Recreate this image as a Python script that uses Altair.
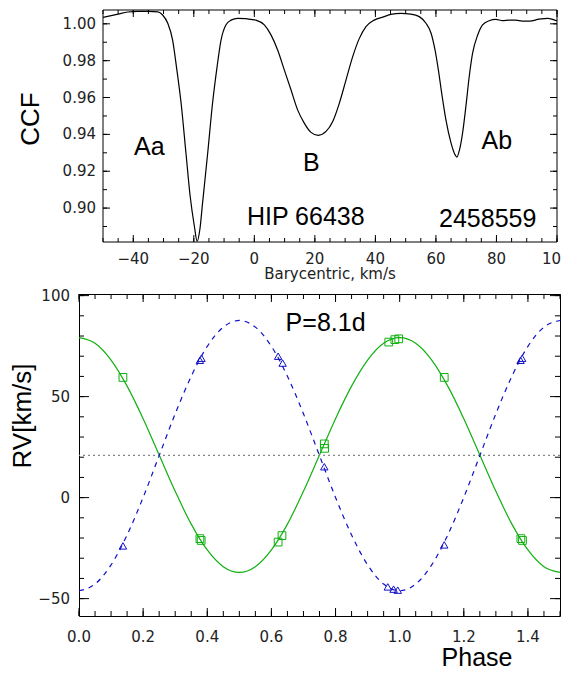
import altair as alt
import pandas as pd

# ---------------- top panel: CCF ----------------
vel = [-50, -45, -41.8, -38.5, -35, -31.9, -30.3, -28.6, -27.0, -25.6, -24.2, -22.6, -21.2, -19.8,
       -18.9, -18.0, -17.1, -15.4, -13.8, -12.3, -11.0, -9.4, -7.7, -5.5, -3, -1.1, 0.5, 3.3, 5.5,
       7.7, 9.9, 12.1, 14.3, 16.5, 18.7, 21.1, 23.7, 25.9, 28.1, 30.3, 32.5, 34.7, 36.9, 39.6, 42.9,
       45.1, 48.4, 51.7, 54.5, 56.7, 58.4, 59.7, 60.8, 61.9, 63.3, 65.0, 66.3, 66.9, 67.8, 68.8, 69.9,
       71.0, 72.1, 73.8, 75.4, 77.6, 79.8, 82.0, 84.2, 86.4, 88.5, 91, 94, 97, 100]
ccf = [1.0035, 1.0053, 1.0064, 1.0068, 1.0068, 1.0065, 1.0048, 1.0003, 0.9912, 0.975, 0.957, 0.930,
       0.9064, 0.890, 0.882, 0.8884, 0.9028, 0.930, 0.957, 0.9768, 0.9912, 0.9994, 1.002, 1.003,
       1.0028, 1.0024, 1.002, 0.9994, 0.994, 0.9858, 0.975, 0.9642, 0.9533, 0.9461, 0.9411, 0.9395,
       0.9416, 0.947, 0.957, 0.9696, 0.9822, 0.9921, 0.9985, 1.002, 1.0039, 1.0051, 1.0057, 1.0053,
       1.0039, 1.0003, 0.9949, 0.9858, 0.975, 0.9624, 0.9479, 0.9353, 0.929, 0.9277, 0.9317, 0.9407,
       0.9552, 0.9714, 0.984, 0.9939, 0.9994, 1.0017, 1.0024, 1.0017, 1.002, 1.002, 1.0015, 1.0015,
       1.0025, 1.003, 1.0015]

note_labels = ["Aa", "B", "Ab", "HIP 66438", "2458559"]
note_x = [-34.7, 18.8, 80.1, 17.0, 77.1]
note_y = [0.9331, 0.9247, 0.9366, 0.895, 0.894]

top_x_domain = [-50, 100]
top_y_domain = [0.8816, 1.0075]
top_x_ticks = [-50 + 5 * i for i in range(31)]
top_x_major = [-40, -20, 0, 20, 40, 60, 80, 100]
top_x_labels = ["\u221240", "\u221220", "0", "20", "40", "60", "80"]
top_x_label_vals = [-40, -20, 0, 20, 40, 60, 80]
top_x_edge_label = ["10"]          # the "100" label is cut at the picture edge
top_x_edge_val = [100]
top_y_ticks = [round(0.89 + 0.01 * i, 2) for i in range(12)]
top_y_major = [0.90, 0.92, 0.94, 0.96, 0.98, 1.00]
top_y_labels = ["0.90", "0.92", "0.94", "0.96", "0.98", "1.00"]

# ---------------- bottom panel: RV curve ----------------
phase_grid = [0.0, 0.05, 0.1, 0.15, 0.2, 0.25, 0.3, 0.35, 0.4, 0.45, 0.5, 0.55, 0.6, 0.65, 0.7, 0.75,
              0.8, 0.85, 0.9, 0.95, 1.0, 1.05, 1.1, 1.15, 1.2, 1.25, 1.3, 1.35, 1.4, 1.45, 1.5]
rv_green_curve = [79.2, 76.4, 68.1, 55.2, 39.1, 21.1, 3.1, -13.1, -25.9, -34.2, -37.0, -34.2, -25.9,
                  -13.1, 3.1, 21.1, 39.1, 55.2, 68.1, 76.4, 79.2, 76.4, 68.1, 55.2, 39.1, 21.1, 3.1,
                  -13.1, -25.9, -34.2, -37.0]
rv_blue_curve = [-46.1, -42.8, -33.3, -18.5, 0.1, 20.8, 41.5, 60.1, 74.9, 84.4, 87.7, 84.4, 74.9, 60.1,
                 41.5, 20.8, 0.1, -18.5, -33.3, -42.8, -46.1, -42.8, -33.3, -18.5, 0.1, 20.8, 41.5,
                 60.1, 74.9, 84.4, 87.7]
gamma = [20.9]

green_phase = [0.137, 0.377, 0.381, 0.621, 0.633, 0.765, 0.766, 0.966, 0.985, 0.997, 1.139, 1.378, 1.383]
green_rv = [59.5, -20.3, -21.2, -22.0, -18.8, 26.6, 24.4, 77.0, 78.2, 78.6, 59.5, -20.3, -21.2]
blue_phase = [0.137, 0.377, 0.382, 0.621, 0.635, 0.765, 0.963, 0.981, 0.994, 1.139, 1.377, 1.382]
blue_rv = [-23.9, 68.0, 69.0, 70.0, 66.6, 15.3, -44.2, -45.3, -45.8, -23.4, 68.0, 69.0]

period_label = ["P=8.1d"]
period_x = [0.769]
period_y = [86.2]

bot_x_domain = [0, 1.5]
bot_y_domain = [-58.6, 100.8]
bot_x_ticks = [round(0.05 * i, 2) for i in range(31)]
bot_x_major = [0.0, 0.2, 0.4, 0.6, 0.8, 1.0, 1.2, 1.4]
bot_x_labels = ["0.0", "0.2", "0.4", "0.6", "0.8", "1.0", "1.2", "1.4"]
bot_y_ticks = [-50 + 10 * i for i in range(16)]
bot_y_major = [-50, 0, 50, 100]
bot_y_labels = ["\u221250", "0", "50", "100"]

GREEN = "#10b010"
BLUE = "#1010c8"
TICKFONT = "DejaVu Sans"
BIGFONT = "Liberation Sans"
LABELCOLOR = "#222222"

# layout (pixels)
INSET = 24            # the upper frame starts this far right of the lower one
W1, H1 = 478, 232
W2, H2 = 481, 322

# symbol paths for an inward tick starting at the frame edge (length = sqrt(size))
TICK_PATH = {"bottom": "M0,0L0,-2", "top": "M0,0L0,2", "left": "M0,0L2,0", "right": "M0,0L-2,0"}


def edge_ticks(values, length, edge, scale, left, right, height, tag):
    """inward tick marks along one edge of a frame, drawn as line-shaped point symbols"""
    df = pd.DataFrame({"v": values, "edge": [tag + edge + str(length)] * len(values)})
    sym = alt.Chart(df).mark_point(shape=TICK_PATH[edge], size=length * length, filled=False,
                                   color="black", strokeWidth=1, opacity=1)
    if edge in ("bottom", "top"):
        return sym.encode(x=alt.X("v:Q", scale=scale, axis=None),
                          y=alt.value(height if edge == "bottom" else 0))
    return sym.encode(y=alt.Y("v:Q", scale=scale, axis=None),
                      x=alt.value(left if edge == "left" else right))


def frame_ticks(xvals, xmaj, yvals, ymaj, xs, ys, left, right, height, xl, yl, tag):
    out = []
    for edge in ("bottom", "top"):
        out.append(edge_ticks(xvals, xl[1], edge, xs, left, right, height, tag))
        out.append(edge_ticks(xmaj, xl[0], edge, xs, left, right, height, tag))
    for edge in ("left", "right"):
        out.append(edge_ticks(yvals, yl[1], edge, ys, left, right, height, tag))
        out.append(edge_ticks(ymaj, yl[0], edge, ys, left, right, height, tag))
    return out


def x_labels(vals, texts, scale, ypix, align="center", dx=0):
    return alt.Chart(pd.DataFrame({"v": vals, "t": texts})).mark_text(
        font=TICKFONT, fontSize=15, color=LABELCOLOR, align=align, baseline="middle", dx=dx).encode(
        x=alt.X("v:Q", scale=scale, axis=None), y=alt.value(ypix), text="t:N")


def y_labels(vals, texts, scale, xpix):
    return alt.Chart(pd.DataFrame({"v": vals, "t": texts})).mark_text(
        font=TICKFONT, fontSize=15, color=LABELCOLOR, align="right", baseline="middle").encode(
        y=alt.Y("v:Q", scale=scale, axis=None), x=alt.value(xpix), text="t:N")


def free_text(txt, x, y, size, font=BIGFONT, angle=0, color="black"):
    return alt.Chart(pd.DataFrame({"t": [txt]})).mark_text(
        font=font, fontSize=size, angle=angle, align="center", baseline="middle", color=color).encode(
        text="t:N", x=alt.value(x), y=alt.value(y))


# ---------- top ----------
xs1 = alt.Scale(domain=top_x_domain, range=[INSET, W1], nice=False, zero=False)
ys1 = alt.Scale(domain=top_y_domain, nice=False, zero=False)

ccf_df = pd.DataFrame({"vel": vel, "ccf": ccf})
line1 = alt.Chart(ccf_df).mark_line(color="black", strokeWidth=1.2, interpolate="monotone").encode(
    x=alt.X("vel:Q", scale=xs1, axis=None), y=alt.Y("ccf:Q", scale=ys1, axis=None))
frame1 = alt.Chart(pd.DataFrame({"x0": [top_x_domain[0]], "x1": [top_x_domain[1]],
                                 "y0": [top_y_domain[0]], "y1": [top_y_domain[1]]})).mark_rect(
    fillOpacity=0, stroke="black", strokeWidth=1).encode(
    x=alt.X("x0:Q", scale=xs1, axis=None), x2="x1:Q",
    y=alt.Y("y0:Q", scale=ys1, axis=None), y2="y1:Q")

note_df = pd.DataFrame({"lab": note_labels, "x": note_x, "y": note_y})
notes = alt.Chart(note_df).mark_text(font=BIGFONT, fontSize=25, color="black", baseline="middle",
                                     align="center").encode(
    x=alt.X("x:Q", scale=xs1, axis=None), y=alt.Y("y:Q", scale=ys1, axis=None), text="lab:N")

top_layers = [line1, frame1]
top_layers += frame_ticks(top_x_ticks, top_x_major, top_y_ticks, top_y_major, xs1, ys1,
                          INSET, W1, H1, (7, 4), (7, 4), "top-")
top_layers += [notes,
               x_labels(top_x_label_vals, top_x_labels, xs1, H1 + 17),
               x_labels(top_x_edge_val, top_x_edge_label, xs1, H1 + 17, align="right", dx=4),
               y_labels(top_y_major, top_y_labels, ys1, INSET - 7),
               free_text("Barycentric, km/s", INSET + 227, H1 + 32, 15, font=TICKFONT,
                         color=LABELCOLOR),
               free_text("CCF", -48, 109, 26, angle=270)]
top = alt.layer(*top_layers).properties(width=W1, height=H1,
                                        view=alt.ViewBackground(strokeOpacity=0))

# ---------- bottom ----------
xs2 = alt.Scale(domain=bot_x_domain, nice=False, zero=False)
ys2 = alt.Scale(domain=bot_y_domain, nice=False, zero=False)

curve_df = pd.DataFrame({"phase": phase_grid, "green": rv_green_curve, "blue": rv_blue_curve})
green_line = alt.Chart(curve_df).mark_line(color=GREEN, strokeWidth=1.2, interpolate="monotone").encode(
    x=alt.X("phase:Q", scale=xs2, axis=None), y=alt.Y("green:Q", scale=ys2, axis=None))
blue_line = alt.Chart(curve_df).mark_line(color=BLUE, strokeWidth=1.2, strokeDash=[5, 5],
                                          interpolate="monotone").encode(
    x=alt.X("phase:Q", scale=xs2, axis=None), y=alt.Y("blue:Q", scale=ys2, axis=None))
gamma_rule = alt.Chart(pd.DataFrame({"g": gamma})).mark_rule(
    color="#888888", strokeDash=[2, 3], strokeWidth=1.3).encode(
    y=alt.Y("g:Q", scale=ys2, axis=None))
green_pts = alt.Chart(pd.DataFrame({"phase": green_phase, "rv": green_rv})).mark_point(
    shape="square", filled=False, color=GREEN, size=60, strokeWidth=1, opacity=1).encode(
    x=alt.X("phase:Q", scale=xs2, axis=None), y=alt.Y("rv:Q", scale=ys2, axis=None))
blue_pts = alt.Chart(pd.DataFrame({"phase": blue_phase, "rv": blue_rv})).mark_point(
    shape="triangle-up", filled=False, color=BLUE, size=55, strokeWidth=1, opacity=1).encode(
    x=alt.X("phase:Q", scale=xs2, axis=None), y=alt.Y("rv:Q", scale=ys2, axis=None))
ptext = alt.Chart(pd.DataFrame({"lab": period_label, "x": period_x, "y": period_y})).mark_text(
    font=BIGFONT, fontSize=25, color="black", baseline="middle", align="center").encode(
    x=alt.X("x:Q", scale=xs2, axis=None), y=alt.Y("y:Q", scale=ys2, axis=None), text="lab:N")
spacer = alt.Chart(pd.DataFrame({"s": [" "]})).mark_text(align="left", fontSize=10).encode(
    text="s:N", x=alt.value(-70), y=alt.value(150))

bottom_layers = [green_line, gamma_rule, blue_line, green_pts, blue_pts]
bottom_layers += frame_ticks(bot_x_ticks, bot_x_major, bot_y_ticks, bot_y_major, xs2, ys2,
                             0, W2, H2, (8, 5), (10, 5), "bot-")
bottom_layers += [ptext, spacer,
                  x_labels(bot_x_major, bot_x_labels, xs2, H2 + 21),
                  y_labels(bot_y_major, bot_y_labels, ys2, -9),
                  free_text("RV[km/s]", -56, 122, 26, angle=270),
                  free_text("Phase", 398, 364, 25)]
bottom = alt.layer(*bottom_layers).properties(width=W2, height=H2)

chart = alt.vconcat(top, bottom, spacing=6).properties(
    padding=0, background="white").configure_view(stroke="black", strokeWidth=1)

chart.save("out.html", embed_options={"renderer": "svg", "actions": False})
